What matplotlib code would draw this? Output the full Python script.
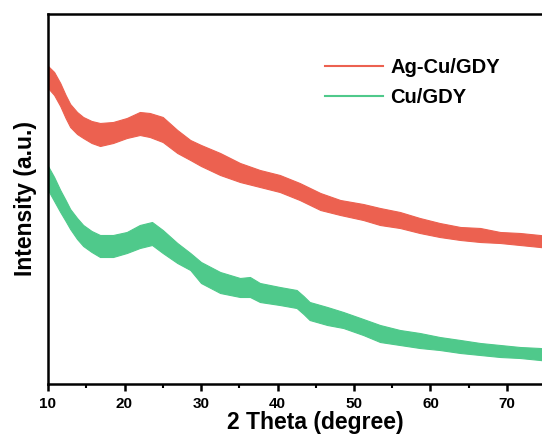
import numpy as np
from matplotlib import pyplot as plt
from matplotlib.lines import Line2D

plt.rcParams['font.family'] = ['Liberation Sans', 'DejaVu Sans']
plt.rcParams['font.weight'] = 'bold'

# envelope of the noisy XRD traces (upper / lower edge of the band)
theta_ag = [10.0, 10.8, 11.6, 12.3, 12.9, 13.8, 14.6, 15.7, 16.8, 18.5,
            20.3, 22.0, 23.3, 25.0, 26.9, 28.6, 30.0, 32.5, 35.1, 37.7,
            40.3, 42.9, 45.6, 48.2, 51.2, 53.4, 56.0, 58.6, 61.2, 63.9,
            66.5, 69.1, 71.7, 74.3, 75.5]
ag_hi = [318, 312, 301, 289, 280, 272, 267, 263, 261, 262,
         266, 272, 271, 267, 254, 244, 239, 231, 221, 214,
         209, 201, 191, 184, 180, 176, 172, 166, 161, 157,
         156, 152, 151, 149, 148]
ag_lo = [296, 289, 278, 266, 257, 250, 246, 241, 238, 241,
         246, 249, 247, 242, 231, 224, 218, 209, 202, 197,
         192, 184, 174, 169, 164, 159, 156, 151, 147, 144,
         142, 141, 139, 137, 136]

theta_cu = [10.0, 10.8, 11.6, 12.3, 12.9, 13.8, 14.6, 15.7, 16.8, 18.5,
            20.3, 22.0, 23.6, 25.0, 26.9, 28.6, 30.0, 32.5, 35.1, 36.4,
            37.7, 40.3, 42.5, 43.4, 44.2, 46.5, 48.6, 51.2, 53.4, 56.0,
            58.6, 61.2, 63.9, 66.5, 69.1, 71.7, 74.3, 75.5]
cu_hi = [218, 207, 194, 184, 175, 166, 159, 153, 149, 149,
         152, 159, 162, 154, 141, 131, 122, 112, 106, 107,
         101, 97, 94, 88, 82, 77, 72, 65, 59, 54,
         51, 47, 44, 41, 39, 37, 36, 35]
cu_lo = [194, 183, 172, 163, 155, 145, 138, 132, 127, 127,
         131, 136, 139, 131, 121, 114, 101, 91, 87, 87,
         82, 79, 76, 70, 64, 59, 56, 49, 42, 39,
         36, 34, 31, 29, 27, 26, 24, 23]

red = '#EC6150'
green = '#4FC98B'

fig = plt.figure(figsize=(5.42, 4.41), dpi=100)
ax = fig.add_axes([48 / 542, 57 / 441, 535.5 / 542, 370 / 441])

ax.fill_between(theta_ag, ag_lo, ag_hi, color=red, lw=0.8, edgecolor=red)
ax.fill_between(theta_cu, cu_lo, cu_hi, color=green, lw=0.8, edgecolor=green)

ax.set_xlim(10, 80)
ax.set_ylim(0, 370)
ax.set_xticks(np.arange(10, 80, 10))
ax.set_xticks(np.arange(15, 80, 10), minor=True)
ax.set_yticks([])
ax.tick_params(axis='x', which='major', direction='out', length=5, width=1.8,
               labelsize=11, pad=4)
ax.tick_params(axis='x', which='minor', direction='out', length=3, width=1.5)
for lab in ax.get_xticklabels():
    lab.set_fontweight('bold')
for s in ax.spines.values():
    s.set_linewidth(1.8)

ax.set_xlabel('2 Theta (degree)', fontsize=16.5, fontweight='bold', labelpad=0)
ax.set_ylabel('Intensity (a.u.)', fontsize=16.5, fontweight='bold', labelpad=8)

handles = [Line2D([], [], color=red, lw=1.5), Line2D([], [], color=green, lw=1.5)]
fig.legend(handles, ['Ag-Cu/GDY', 'Cu/GDY'], loc='upper left',
           bbox_to_anchor=(325 / 542, (441 - 58) / 441), frameon=False,
           prop={'size': 14.5, 'weight': 'bold'}, handlelength=2.9,
           handletextpad=0.35, labelspacing=0.55, borderpad=0, borderaxespad=0)

fig.savefig('out.png', dpi=100)
